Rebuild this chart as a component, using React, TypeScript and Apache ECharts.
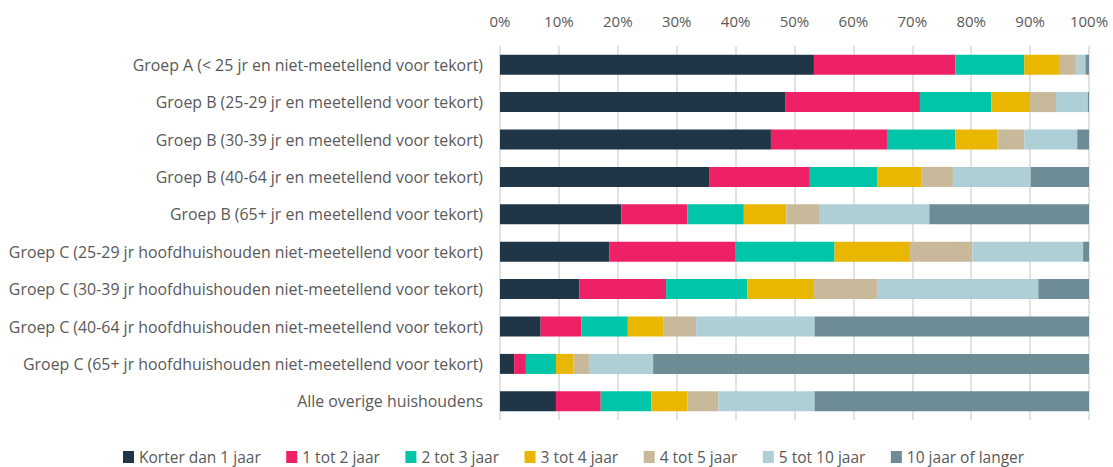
import React, { useEffect, useRef } from "react";
import * as echarts from "echarts";

const categories = [
  "Groep A (< 25 jr en niet-meetellend voor tekort)",
  "Groep B (25-29 jr en meetellend voor tekort)",
  "Groep B (30-39 jr en meetellend voor tekort)",
  "Groep B (40-64 jr en meetellend voor tekort)",
  "Groep B (65+ jr en meetellend voor tekort)",
  "Groep C (25-29 jr hoofdhuishouden niet-meetellend voor tekort)",
  "Groep C (30-39 jr hoofdhuishouden niet-meetellend voor tekort)",
  "Groep C (40-64 jr hoofdhuishouden niet-meetellend voor tekort)",
  "Groep C (65+ jr hoofdhuishouden niet-meetellend voor tekort)",
  "Alle overige huishoudens",
];

const seriesNames = [
  "Korter dan 1 jaar",
  "1 tot 2 jaar",
  "2 tot 3 jaar",
  "3 tot 4 jaar",
  "4 tot 5 jaar",
  "5 tot 10 jaar",
  "10 jaar of langer",
];

const colors = ["#203647", "#EE2066", "#00C5A8", "#EAB700", "#C9B99B", "#AECFD6", "#6E8C95"];

const korter1 = [53.3, 48.5, 46.0, 35.6, 20.6, 18.6, 13.5, 6.9, 2.4, 9.5];
const tot2 = [24.0, 22.8, 19.7, 17.0, 11.2, 21.3, 14.7, 6.9, 2.0, 7.6];
const tot3 = [11.7, 12.1, 11.6, 11.4, 9.6, 16.9, 13.8, 7.9, 5.1, 8.6];
const tot4 = [5.9, 6.6, 7.2, 7.6, 7.2, 12.8, 11.3, 6.1, 3.0, 6.1];
const tot5 = [3.0, 4.4, 4.5, 5.3, 5.7, 10.6, 10.7, 5.5, 2.6, 5.3];
const tot10 = [1.5, 5.4, 9.0, 13.2, 18.6, 18.8, 27.4, 20.1, 10.9, 16.3];
const langer10 = [0.6, 0.2, 2.0, 9.9, 27.1, 1.0, 8.6, 46.6, 74.0, 46.6];

const seriesData = [korter1, tot2, tot3, tot4, tot5, tot10, langer10];

export default function App() {
  const ref = useRef<HTMLDivElement>(null);
  useEffect(() => {
    if (!ref.current) return;
    const chart = echarts.init(ref.current, undefined, { renderer: "svg" });
    const font = "Open Sans";
    chart.setOption({
      animation: false,
      color: colors,
      grid: { left: 500, right: 24, top: 46, bottom: 47, containLabel: false },
      legend: {
        bottom: -3,
        left: 118,
        itemWidth: 11,
        itemHeight: 12,
        itemGap: 25.5,
        icon: "rect",
        textStyle: { color: "#595959", fontSize: 15.5, fontFamily: font },
        data: seriesNames,
      },
      xAxis: {
        type: "value",
        position: "top",
        min: 0,
        max: 100,
        interval: 10,
        axisLine: { show: false },
        axisTick: { show: false },
        axisLabel: {
          formatter: "{value}%",
          color: "#595959",
          fontSize: 15,
          fontFamily: font,
          margin: 18,
        },
        splitLine: { show: true, lineStyle: { color: "#D9D9D9", width: 1.5 } },
      },
      yAxis: {
        type: "category",
        inverse: true,
        data: categories,
        axisLine: { show: false },
        axisTick: { show: false },
        axisLabel: { color: "#595959", fontSize: 15.9, fontFamily: font, margin: 17 },
      },
      series: seriesNames.map((name, i) => ({
        name,
        type: "bar",
        stack: "total",
        barWidth: 20,
        data: seriesData[i],
        itemStyle: { color: colors[i] },
      })),
    });
    return () => chart.dispose();
  }, []);
  return (
    <div
      ref={ref}
      style={{ position: "fixed", left: 0, top: 0, width: 1113, height: 467, background: "#fff" }}
    />
  );
}
